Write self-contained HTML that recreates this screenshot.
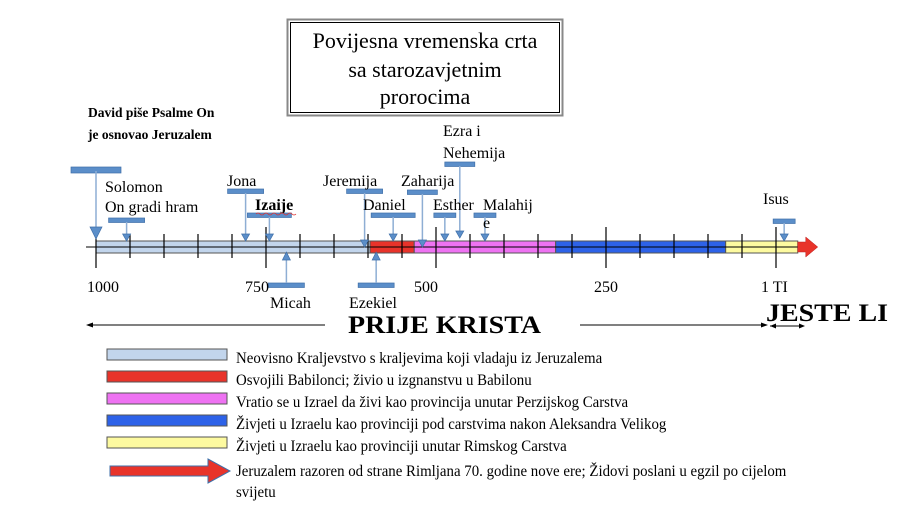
<!DOCTYPE html>
<html><head><meta charset="utf-8"><style>
html,body{margin:0;padding:0;background:#fff;}
svg{display:block;font-family:"Liberation Serif",serif;}
</style></head><body>
<svg id="chart" width="922" height="524" viewBox="0 0 922 524" xmlns="http://www.w3.org/2000/svg">
<rect x="0" y="0" width="922" height="524" fill="#fff"/>
<g>
<rect x="287.5" y="19.5" width="275" height="96" fill="#fff" stroke="#888" stroke-width="2"/>
<rect x="290.5" y="22.5" width="269" height="90" fill="none" stroke="#000" stroke-width="1"/>
<text x="425" y="48" font-size="22" text-anchor="middle">Povijesna vremenska crta</text>
<text x="425" y="77" font-size="22" text-anchor="middle">sa starozavjetnim</text>
<text x="425" y="104" font-size="22" text-anchor="middle">prorocima</text>
</g>
<text x="88" y="117" font-size="13.5" font-weight="bold">David piše Psalme On</text>
<text x="88" y="139" font-size="13.5" font-weight="bold">je osnovao Jeruzalem</text>
<g id="periods"></g>
<g id="ticks"></g>
<g id="markers"></g>
<g id="yearlabels"></g>
<g>
<line x1="92" y1="325" x2="325" y2="325" stroke="#000" stroke-width="1"/>
<polygon points="86,325 93,322.5 93,327.5" fill="#000"/>
<text x="348" y="333" font-size="25" font-weight="bold" textLength="193" lengthAdjust="spacingAndGlyphs">PRIJE KRISTA</text>
<line x1="580" y1="325" x2="763" y2="325" stroke="#000" stroke-width="1"/>
<polygon points="768,325 761,322.5 761,327.5" fill="#000"/>
<line x1="770" y1="326" x2="803" y2="326" stroke="#000" stroke-width="1"/>
<polygon points="770,326 776,323.5 776,328.5" fill="#000"/>
<polygon points="805,326 799,323.5 799,328.5" fill="#000"/>
<text x="766" y="321" font-size="25" font-weight="bold" textLength="122" lengthAdjust="spacingAndGlyphs">JESTE LI</text>
</g>
<g id="legend"></g>
<script>
const periodStarts=[1000,597,532,324,74];
const periodEnds=[597,532,324,74,-32];
const periodColors=['#c2d5ec','#e8332a','#ee72f2','#2d62e8','#fdfaa0'];
const tickYears=[1000,950,900,850,800,750,700,650,600,550,500,450,400,350,300,250,200,150,100,50,0];
const majorYears=[1000,750,500,250,0];
const yearLabels=['1000','750','500','250','1 TI'];
const yearLabelYears=[1000,750,500,250,0];
const eventNames=['David','Solomon','Jona','Izaije','Micah','Jeremija','Daniel','Ezekiel','Zaharija','Esther','Ezra','Malahije','Isus'];
const eventYears=[1000,955,780,745,720,605,563,588,520,487,465,428,-12];
const eventAbove=[1,1,1,1,0,1,1,0,1,1,1,1,1];
const eventBoxY=[167,218,189,213,283,189,213,283,190,213,162,213,219];
const legendTexts=['Neovisno Kraljevstvo s kraljevima koji vladaju iz Jeruzalema','Osvojili Babilonci; živio u izgnanstvu u Babilonu','Vratio se u Izrael da živi kao provincija unutar Perzijskog Carstva','Živjeti u Izraelu kao provinciji pod carstvima nakon Aleksandra Velikog','Živjeti u Izraelu kao provinciji unutar Rimskog Carstva'];
const NS='http://www.w3.org/2000/svg';
const xs=y=>96+(1000-y)*0.68;
function mk(tag,attrs,parent){const e=document.createElementNS(NS,tag);for(const k in attrs)e.setAttribute(k,attrs[k]);parent.appendChild(e);return e;}
const P=document.getElementById('periods');
mk('line',{x1:86,y1:247,x2:800,y2:247,stroke:'#000','stroke-width':1},P);
periodStarts.forEach((s,i)=>{
  const r=mk('rect',{x:xs(s),y:241,width:xs(periodEnds[i])-xs(s),height:12,fill:periodColors[i],stroke:'#555','stroke-width':1},P);
  
  
});
mk('line',{x1:96,y1:247,x2:798,y2:247,stroke:'#000','stroke-width':1},P);
const ea=xs(periodEnds[4]);
const arr=mk('polygon',{points:`${ea},242 ${ea+8},242 ${ea+8},237 ${ea+20},247 ${ea+8},257 ${ea+8},252 ${ea},252`,fill:'#e8332a',stroke:'#b22','stroke-width':0.5},P);


const T=document.getElementById('ticks');
tickYears.forEach(y=>{
  const maj=majorYears.includes(y);
  const t=mk('line',{x1:xs(y),x2:xs(y),y1:maj?227:234,y2:maj?268:258,stroke:'#000','stroke-width':1.2},T);
  
  
});
const YL=document.getElementById('yearlabels');
yearLabels.forEach((l,i)=>{
  const t=mk('text',{x:xs(yearLabelYears[i])-(i==0?9:i==4?15:i==1?21:i==2?22:12),y:292,'font-size':16},YL);
  t.textContent=l;
  
  
});
const M=document.getElementById('markers');
eventNames.forEach((n,i)=>{
  const x=xs(eventYears[i]);const by=eventBoxY[i];
  const w=n=='David'?50:(n=='Isus'||n=='Esther'||n=='Malahije')?22:n=='Ezra'||n=='Zaharija'?30:n=='Daniel'||n=='Izaije'?44:36;
  const g=mk('g',{},M);
  
  
  mk('rect',{x:x-w/2,y:by,width:w,height:n=='David'?6:4.5,fill:'#5b8ec9',stroke:'#3f6fa8','stroke-width':0.7},g);
  if(eventAbove[i]){
    const tip=n=='David'?239:(n=='Jeremija'||n=='Zaharija')?247:n=='Ezra'?238:241;
    const hs=n=='David'?12:7;const hw=n=='David'?6:4;
    mk('line',{x1:x,y1:by+4,x2:x,y2:tip-hs,stroke:'#8eaed4','stroke-width':1.5},g);
    mk('polygon',{points:`${x-hw},${tip-hs} ${x+hw},${tip-hs} ${x},${tip}`,fill:'#5b8ec9',stroke:'#3f6fa8','stroke-width':0.7},g);
  }else{
    mk('line',{x1:x,y1:by,x2:x,y2:260,stroke:'#8eaed4','stroke-width':1.5},g);
    mk('polygon',{points:`${x-4},260 ${x+4},260 ${x},252`,fill:'#5b8ec9',stroke:'#3f6fa8','stroke-width':0.7},g);
  }
});
const labels=[['Solomon',105,192,0],['On gradi hram',105,212,0],['Jona',227,186,0],['Izaije',255,210,1],['Jeremija',323,186,0],['Daniel',363,210,0],['Zaharija',401,186,0],['Esther',433,210,0],['Malahij',483,210,0],['e',483,228,0],['Ezra i',443,136,0],['Nehemija',443,158,0],['Isus',763,204,0],['Micah',270,308,0],['Ezekiel',349,308,0]];
labels.forEach(l=>{
  const t=mk('text',{x:l[1],y:l[2],'font-size':16,'font-weight':l[3]?'bold':'normal'},M);
  t.textContent=l[0];
  
  
});
mk('path',{d:'M256,214 q2,-2 4,0 t4,0 t4,0 t4,0 t4,0 t4,0 t4,0 t4,0 t4,0 t4,0',fill:'none',stroke:'#d33','stroke-width':0.8},M);
const L=document.getElementById('legend');
legendTexts.forEach((s,i)=>{
  const y=349+i*22;
  const r=mk('rect',{x:107,y:y,width:120,height:11,fill:periodColors[i],stroke:'#555','stroke-width':1},L);
  
  
  const t=mk('text',{x:236,y:y+14,'font-size':16,textLength:[485,0,0,0,0][i]||undefined},L);
  t.removeAttribute('textLength');
  t.setAttribute('transform',`translate(236 0) scale(0.93 1) translate(-236 0)`);
  t.textContent=s;
  
  
});
const la=mk('polygon',{points:'110,466 208,466 208,459 230,471 208,483 208,476 110,476',fill:'#e8332a',stroke:'#3f6fa8','stroke-width':1},L);


const lt=mk('text',{x:236,y:476,'font-size':16,transform:'translate(236 0) scale(0.93 1) translate(-236 0)'},L);
lt.textContent='Jeruzalem razoren od strane Rimljana 70. godine nove ere; Židovi poslani u egzil po cijelom';


const lt2=mk('text',{x:236,y:497,'font-size':16,transform:'translate(236 0) scale(0.93 1) translate(-236 0)'},L);
lt2.textContent='svijetu';


</script>
</svg>
</body></html>
